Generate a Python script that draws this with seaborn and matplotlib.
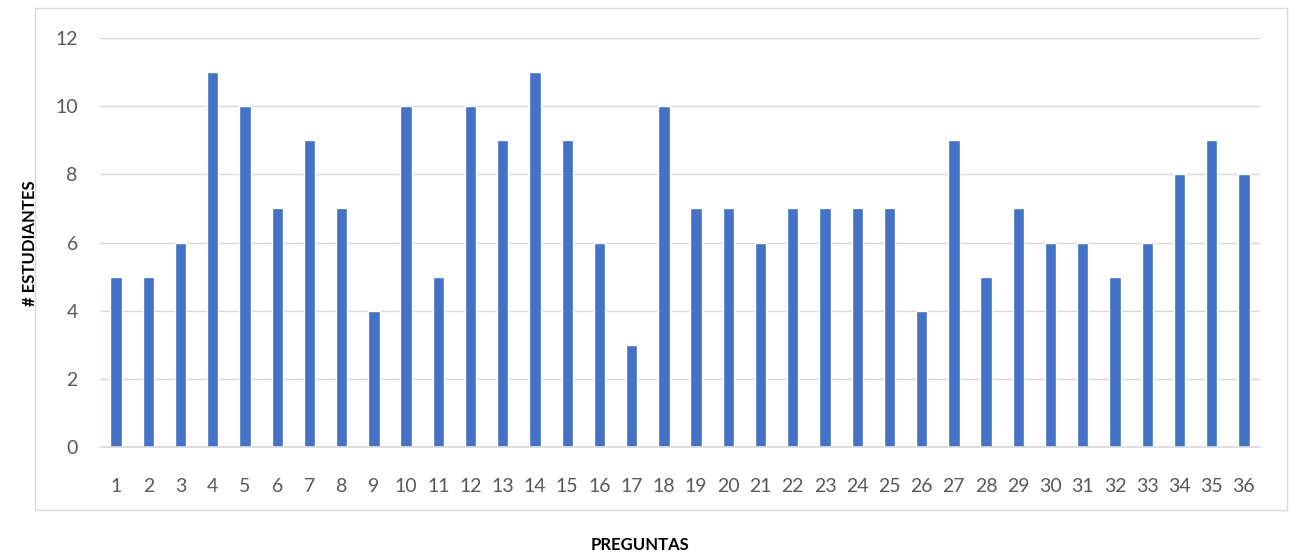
import matplotlib
matplotlib.use("Agg")
import matplotlib.pyplot as plt
import seaborn as sns
import pandas as pd
from matplotlib.patches import Rectangle

# Data
preguntas = [str(i) for i in range(1, 37)]
estudiantes = [5, 5, 6, 11, 10, 7, 9, 7, 4, 10, 5, 10, 9, 11, 9, 6, 3, 10,
               7, 7, 6, 7, 7, 7, 7, 4, 9, 5, 7, 6, 6, 5, 6, 8, 9, 8]
y_ticks = [0, 2, 4, 6, 8, 10, 12]

df = pd.DataFrame({"pregunta": preguntas, "estudiantes": estudiantes})

sns.set_theme(style="white")
plt.rcParams["font.family"] = ["Lato", "DejaVu Sans"]

fig = plt.figure(figsize=(12.89, 5.52), dpi=100)
ax = fig.add_axes([100 / 1289, 1 - 447 / 552, 1160 / 1289, 409 / 552])

sns.barplot(data=df, x="pregunta", y="estudiantes", color="#4472C4",
            width=0.35, saturation=1, ax=ax)

ax.set_ylim(0, 12)
ax.set_yticks(y_ticks)
ax.set_xlim(-0.5, len(preguntas) - 0.5)
ax.yaxis.grid(True, color="#D9D9D9", linewidth=1)
ax.set_axisbelow(True)
for side in ["top", "right", "left"]:
    ax.spines[side].set_visible(False)
ax.spines["bottom"].set_color("#D9D9D9")
ax.tick_params(axis="both", colors="#595959", labelsize=14, length=0)
ax.tick_params(axis="x", pad=22)
ax.tick_params(axis="y", pad=16)

ax.set_xlabel("")
ax.set_ylabel("")
fig.text(30 / 1289, 1 - 243 / 552, "# ESTUDIANTES", rotation=90,
         ha="center", va="center", fontsize=12, fontweight="bold", color="black")
fig.text(640 / 1289, 1 - 545 / 552, "PREGUNTAS", ha="center", va="center",
         fontsize=12, fontweight="bold", color="black")

# outer chart border
fig.patches.append(Rectangle((35 / 1289, 1 - 510 / 552), 1252 / 1289, 502 / 552,
                             transform=fig.transFigure, fill=False,
                             edgecolor="#D9D9D9", linewidth=1))

fig.savefig("out.png", dpi=100, facecolor="white")
